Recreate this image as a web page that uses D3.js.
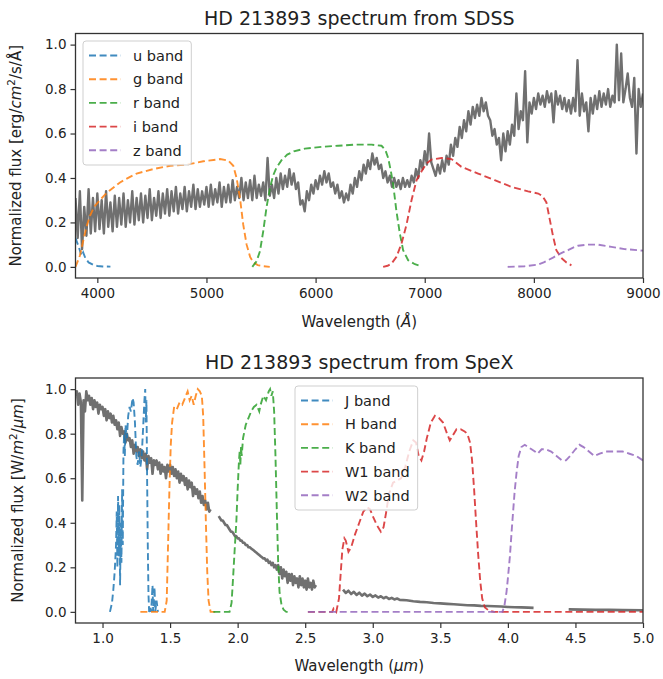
<!DOCTYPE html>
<html><head><meta charset="utf-8">
<script src="https://cdn.jsdelivr.net/npm/d3@7"></script>
<style>
body{margin:0;background:#fff}
svg{display:block}
text{font-family:"DejaVu Sans",sans-serif;fill:#222}
</style>
</head><body>
<svg id="c" width="663" height="679"></svg>
<script>
// ---------------- SDSS panel data ----------------
const sdssTitle = "HD 213893 spectrum from SDSS";
const sdssXTicks = [4000, 5000, 6000, 7000, 8000, 9000];
const yTicks = [0, 0.2, 0.4, 0.6, 0.8, 1.0];

const sdssWave = [
3800,3820,3840,3860,3880,3900,3920,3940,3960,3980,
4000,4020,4040,4060,4080,4100,4120,4140,4160,4180,
4200,4220,4240,4260,4280,4300,4320,4340,4360,4380,
4400,4420,4440,4460,4480,4500,4520,4540,4560,4580,
4600,4620,4640,4660,4680,4700,4720,4740,4760,4780,
4800,4820,4840,4860,4880,4900,4920,4940,4960,4980,
5000,5020,5040,5060,5080,5100,5120,5140,5160,5180,
5200,5220,5240,5260,5280,5300,5320,5340,5360,5380,
5400,5420,5440,5460,5480,5500,5520,5540,5560,5580,
5600,5620,5640,5660,5680,5700,5720,5740,5760,5780,
5800,5820,5840,5860,5880,5900,5920,5940,5960,5980,
6000,6020,6040,6060,6080,6100,6120,6140,6160,6180,
6200,6220,6240,6260,6280,6300,6320,6340,6360,6380,
6400,6420,6440,6460,6480,6500,6520,6540,6560,6580,
6600,6620,6640,6660,6680,6700,6720,6740,6760,6780,
6800,6820,6840,6860,6880,6900,6920,6940,6960,6980,
7000,7020,7040,7060,7080,7100,7120,7140,7160,7180,
7200,7220,7240,7260,7280,7300,7320,7340,7360,7380,
7400,7420,7440,7460,7480,7500,7520,7540,7560,7580,
7600,7620,7640,7660,7680,7700,7720,7740,7760,7780,
7800,7820,7840,7860,7880,7900,7920,7940,7960,7980,
8000,8020,8040,8060,8080,8100,8120,8140,8160,8180,
8200,8220,8240,8260,8280,8300,8320,8340,8360,8380,
8400,8420,8440,8460,8480,8500,8520,8540,8560,8580,
8600,8620,8640,8660,8680,8700,8720,8740,8760,8780,
8800,8820,8840,8860,8880,8900,8920,8940,8960,8980,
9000];
const sdssFlux = [
.31,.13,.34,.08,.27,.14,.35,.15,.31,.16,
.33,.17,.30,.15,.34,.18,.29,.16,.32,.18,
.31,.19,.33,.18,.30,.20,.34,.19,.31,.21,
.33,.20,.32,.22,.35,.21,.31,.23,.34,.22,
.33,.24,.35,.23,.34,.25,.36,.24,.33,.26,
.36,.25,.34,.27,.37,.26,.35,.27,.34,.28,
.36,.27,.37,.28,.35,.29,.38,.27,.36,.29,
.37,.29,.39,.30,.36,.31,.40,.30,.38,.31,
.39,.30,.41,.31,.37,.32,.38,.30,.49,.32,
.37,.31,.40,.33,.42,.35,.41,.36,.44,.37,
.42,.35,.38,.28,.30,.25,.34,.30,.37,.33,
.39,.35,.41,.37,.43,.38,.42,.36,.38,.33,
.37,.31,.34,.29,.33,.30,.37,.33,.40,.36,
.43,.39,.46,.42,.48,.44,.51,.46,.49,.44,
.46,.40,.43,.38,.41,.36,.40,.36,.39,.35,
.40,.36,.39,.36,.41,.38,.44,.40,.48,.44,
.52,.46,.60,.47,.44,.41,.46,.42,.48,.43,
.50,.46,.55,.50,.58,.54,.63,.58,.66,.61,
.70,.64,.72,.67,.73,.68,.76,.70,.74,.68,
.66,.59,.62,.55,.58,.48,.60,.52,.61,.55,
.64,.59,.78,.62,.70,.66,.88,.56,.74,.69,
.76,.71,.78,.73,.77,.72,.79,.74,.78,.65,
.79,.73,.77,.71,.76,.70,.75,.69,.76,.70,
.93,.68,.78,.70,.74,.61,.76,.69,.77,.71,
.79,.72,.78,.73,.80,.72,.77,.74,1.0,.75,
.96,.74,.80,.87,.76,.72,.85,.51,.80,.72,
.78];

const uWave = [3800,3830,3855,3870,3890,3920,3960,4000,4050,4120];
const uVal  = [0.13,0.09,0.05,0.065,0.04,0.02,0.01,0.004,0.002,0.001];
const gWave = [3800,3840,3872,3900,3933,3970,4024,4070,4116,4208,4300,4360,4513,4666,4818,4971,5124,5200,5246,5276,5307,5337,5368,5400,5430,5470,5520,5580];
const gVal  = [0.0,0.05,0.12,0.18,0.23,0.27,0.30,0.325,0.345,0.38,0.405,0.42,0.44,0.455,0.46,0.475,0.485,0.478,0.455,0.40,0.31,0.19,0.10,0.045,0.02,0.008,0.003,0.0];
const rWave = [5420,5459,5490,5520,5551,5580,5610,5640,5688,5740,5800,5902,6054,6207,6360,6513,6604,6640,6665,6690,6711,6741,6772,6802,6848,6910,6971];
const rVal  = [0.0,0.025,0.07,0.16,0.27,0.35,0.41,0.445,0.48,0.505,0.52,0.532,0.54,0.545,0.55,0.55,0.545,0.525,0.49,0.43,0.37,0.25,0.15,0.075,0.03,0.012,0.003];
const iWave = [6619,6660,6696,6741,6787,6833,6879,6925,6971,7016,7062,7154,7245,7336,7489,7641,7794,7947,8040,8080,8115,8145,8175,8206,8252,8298,8344];
const iVal  = [0.0,0.005,0.015,0.045,0.105,0.19,0.30,0.39,0.43,0.465,0.483,0.49,0.485,0.45,0.42,0.39,0.36,0.34,0.33,0.318,0.29,0.215,0.14,0.075,0.04,0.02,0.007];
const zWave = [7760,7916,8038,8090,8130,8180,8222,8270,8313,8360,8405,8497,8589,8711,8832,8954,9000];
const zVal  = [0.0,0.003,0.01,0.02,0.03,0.043,0.055,0.066,0.075,0.087,0.095,0.10,0.10,0.09,0.08,0.075,0.073];

// ---------------- SpeX panel data ----------------
const spexTitle = "HD 213893 spectrum from SpeX";
const spexXTicks = [1.0, 1.5, 2.0, 2.5, 3.0, 3.5, 4.0, 4.5, 5.0];

const spexWaveA = [
0.80,0.81,0.82,0.83,0.84,0.85,0.86,0.87,0.88,0.89,
0.90,0.91,0.92,0.93,0.94,0.95,0.96,0.97,0.98,0.99,
1.00,1.01,1.02,1.03,1.04,1.05,1.06,1.07,1.08,1.09,
1.10,1.11,1.12,1.13,1.14,1.15,1.16,1.17,1.18,1.19,
1.20,1.21,1.22,1.23,1.24,1.25,1.26,1.27,1.28,1.29,
1.30,1.31,1.32,1.33,1.34,1.35,1.36,1.37,1.38,1.39,
1.40,1.41,1.42,1.43,1.44,1.45,1.46,1.47,1.48,1.49,
1.50,1.51,1.52,1.53,1.54,1.55,1.56,1.57,1.58,1.59,
1.60,1.61,1.62,1.63,1.64,1.65,1.66,1.67,1.68,1.69,
1.70,1.71,1.72,1.73,1.74,1.75,1.76,1.77,1.78,1.79,
1.80];
const spexFluxA = [
.97,.99,.93,.98,.94,.50,.95,.90,.99,.95,
.97,.93,.96,.91,.95,.92,.94,.89,.93,.91,
.92,.88,.91,.86,.90,.87,.89,.85,.88,.84,
.86,.82,.85,.79,.83,.80,.81,.76,.80,.77,
.78,.74,.77,.71,.75,.72,.74,.70,.73,.69,
.72,.68,.71,.64,.70,.67,.69,.62,.68,.66,
.68,.64,.67,.62,.66,.63,.65,.60,.66,.63,
.66,.62,.65,.61,.64,.60,.63,.58,.62,.59,
.61,.57,.60,.55,.59,.56,.58,.52,.56,.53,
.55,.51,.54,.49,.52,.48,.50,.46,.49,.45,
.46];
const spexWaveB = [
1.86,1.87,1.88,1.89,
1.90,1.91,1.92,1.93,1.94,1.95,1.96,1.97,1.98,1.99,
2.00,2.01,2.02,2.03,2.04,2.05,2.06,2.07,2.08,2.09,
2.10,2.11,2.12,2.13,2.14,2.15,2.16,2.17,2.18,2.19,
2.20,2.21,2.22,2.23,2.24,2.25,2.26,2.27,2.28,2.29,
2.30,2.31,2.32,2.33,2.34,2.35,2.36,2.37,2.38,2.39,
2.40,2.41,2.42,2.43,2.44,2.45,2.46,2.47,2.48,2.49,
2.50,2.51,2.52,2.53,2.54,2.55,2.56,2.57,2.58];
const spexFluxB = [
.43,.42,.41,.41,
.40,.39,.39,.38,.37,.36,.36,.35,.34,.34,
.33,.33,.32,.32,.31,.31,.30,.30,.29,.29,
.285,.28,.275,.27,.265,.26,.255,.25,.245,.24,
.24,.23,.235,.22,.225,.21,.22,.20,.21,.19,
.21,.17,.20,.15,.19,.16,.18,.13,.17,.14,
.17,.12,.16,.13,.15,.11,.16,.12,.15,.11,
.14,.10,.15,.11,.13,.10,.14,.11,.12];
const spexWaveC = [2.78,2.80,2.82,2.84,2.86,2.88,2.90,2.92,2.94,2.96,2.98,3.00,3.02,3.04,3.06,3.08,3.10,3.12,3.14,3.16,3.18,3.20,
3.25,3.30,3.35,3.40,3.45,3.50,3.55,3.60,3.65,3.70,3.75,3.80,3.85,3.90,3.95,4.00,4.05,4.10,4.15,4.19];
const spexFluxC = [.10,.085,.095,.08,.09,.076,.086,.073,.082,.07,.078,.067,.074,.064,.07,.061,.067,.058,.063,.056,.06,.054,
.052,.048,.045,.043,.040,.038,.036,.034,.032,.030,.029,.027,.026,.025,.024,.022,.021,.020,.019,.018];
const spexWaveD = [4.45,4.55,4.65,4.75,4.85,5.00];
const spexFluxD = [.011,.010,.009,.009,.008,.007];

const jWave = [1.055,1.07,1.08,1.09,1.10,1.105,1.11,1.115,1.12,1.125,1.13,1.135,1.14,1.145,1.15,1.155,1.16,1.165,1.17,1.18,1.19,1.20,1.21,1.222,1.23,1.24,1.25,1.26,1.27,1.28,1.29,1.30,1.31,1.316,1.32,1.325,1.33,1.335,1.34,1.345,1.355,1.36,1.37,1.375,1.385,1.39,1.40,1.41];
const jVal  = [0.0,0.04,0.10,0.18,0.30,0.45,0.20,0.52,0.25,0.48,0.12,0.40,0.22,0.55,0.30,0.72,0.80,0.70,0.84,0.78,0.88,0.92,0.90,0.96,0.94,0.85,0.70,0.66,0.72,0.65,0.70,0.82,0.95,1.00,0.85,0.95,0.60,0.30,0.08,0.0,0.02,0.0,0.12,0.0,0.11,0.0,0.05,0.0];
const hWave = [1.28,1.46,1.475,1.485,1.495,1.505,1.515,1.53,1.55,1.57,1.59,1.61,1.63,1.645,1.66,1.675,1.69,1.705,1.72,1.735,1.745,1.755,1.765,1.775,1.785,1.80,1.84];
const hVal  = [0.0,0.0,0.05,0.30,0.55,0.75,0.85,0.92,0.91,0.94,0.93,0.96,0.99,0.95,0.97,0.93,0.97,1.00,0.99,0.97,0.88,0.65,0.40,0.18,0.05,0.0,0.0];
const kWave = [1.82,1.94,1.955,1.965,1.98,1.99,2.00,2.01,2.015,2.02,2.025,2.03,2.04,2.06,2.08,2.10,2.12,2.14,2.16,2.17,2.19,2.21,2.23,2.24,2.25,2.26,2.27,2.28,2.29,2.30,2.31,2.325,2.34,2.36,2.39];
const kVal  = [0.0,0.0,0.04,0.14,0.30,0.40,0.55,0.68,0.72,0.66,0.74,0.70,0.78,0.84,0.87,0.90,0.92,0.93,0.90,0.93,0.97,0.95,0.99,1.00,0.97,0.99,0.90,0.70,0.45,0.22,0.09,0.03,0.01,0.0,0.0];
const w1Wave = [2.52,2.70,2.71,2.73,2.75,2.76,2.775,2.79,2.80,2.82,2.84,2.87,2.90,2.93,2.96,2.98,3.00,3.03,3.06,3.08,3.10,3.12,3.15,3.18,3.21,3.24,3.27,3.30,3.32,3.34,3.36,3.38,3.40,3.43,3.46,3.49,3.52,3.55,3.57,3.59,3.62,3.65,3.68,3.70,3.72,3.735,3.75,3.765,3.78,3.795,3.81,3.83,3.86,3.90,5.00];
const w1Val  = [0.0,0.0,0.015,0.0,0.06,0.15,0.28,0.33,0.32,0.27,0.29,0.35,0.40,0.45,0.47,0.46,0.43,0.39,0.36,0.38,0.45,0.53,0.58,0.59,0.60,0.65,0.72,0.77,0.76,0.70,0.68,0.72,0.78,0.85,0.88,0.87,0.85,0.80,0.77,0.79,0.82,0.82,0.81,0.80,0.76,0.68,0.55,0.40,0.26,0.14,0.06,0.02,0.005,0.0,0.0];
const w2Wave = [2.52,3.96,3.975,3.99,4.00,4.015,4.03,4.04,4.05,4.065,4.08,4.10,4.125,4.15,4.175,4.20,4.22,4.25,4.28,4.32,4.36,4.40,4.43,4.46,4.50,4.53,4.56,4.60,4.64,4.68,4.72,4.76,4.80,4.85,4.90,4.95,5.00];
const w2Val  = [0.0,0.0,0.03,0.09,0.15,0.25,0.38,0.46,0.54,0.63,0.70,0.74,0.75,0.74,0.73,0.72,0.71,0.73,0.73,0.72,0.70,0.68,0.68,0.70,0.73,0.75,0.74,0.72,0.70,0.71,0.72,0.72,0.72,0.72,0.71,0.70,0.68];

const sdssBandNames = ["u band","g band","r band","i band","z band"];
const spexBandNames = ["J band","H band","K band","W1 band","W2 band"];
const bandColors = ["#1f77b4","#ff7f0e","#2ca02c","#d62728","#9467bd"];

// ---------------- drawing ----------------
const svg = d3.select("#c");
const SPEC_COLOR = "#707070";
const AX_COLOR = "#333";
const TICK_FS = 13.5, LABEL_FS = 15, TITLE_FS = 19, LEG_FS = 14.5;

function addRich(sel, parts, fs) {
  parts.forEach((p, i) => {
    const t = sel.append("tspan").text(p.t);
    if (p.i) t.attr("font-style", "italic");
    if (p.sup) {
      t.attr("font-size", fs * 0.7).attr("dy", -fs * 0.42);
    }
    if (i > 0 && parts[i - 1].sup) t.attr("dy", fs * 0.42);
  });
}

function panel(o, idx) {
  const g = svg.append("g");
  const x = d3.scaleLinear().domain(o.xDomain).range([o.left, o.right]);
  const y = d3.scaleLinear().domain([-0.05, 1.05]).range([o.bottom, o.top]);
  const cid = "clip" + idx;
  g.append("clipPath").attr("id", cid).append("rect")
    .attr("x", o.left).attr("y", o.top).attr("width", o.right - o.left).attr("height", o.bottom - o.top);
  const plot = g.append("g").attr("clip-path", `url(#${cid})`);
  const line = d3.line().x(d => x(d[0])).y(d => y(d[1]));

  o.spectrum.forEach(seg => {
    plot.append("path").attr("d", line(d3.zip(seg[0], seg[1])))
      .attr("fill", "none").attr("stroke", SPEC_COLOR).attr("stroke-width", o.specW)
      .attr("stroke-linejoin", "round");
  });
  o.bands.forEach((b, i) => {
    plot.append("path").attr("d", line(d3.zip(b[0], b[1])))
      .attr("fill", "none").attr("stroke", bandColors[i]).attr("stroke-width", 1.9)
      .attr("stroke-opacity", 0.85)
      .attr("stroke-dasharray", "7,3.6");
  });

  // axes
  const xa = d3.axisBottom(x).tickValues(o.xTicks).tickFormat(o.xFmt).tickSize(5).tickPadding(5);
  const ya = d3.axisLeft(y).tickValues(yTicks).tickFormat(d3.format(".1f")).tickSize(5).tickPadding(4);
  const gx = g.append("g").attr("transform", `translate(0,${o.bottom})`).call(xa);
  const gy = g.append("g").attr("transform", `translate(${o.left},0)`).call(ya);
  [gx, gy].forEach(a => {
    a.select(".domain").remove();
    a.selectAll("line").attr("stroke", AX_COLOR).attr("stroke-width", 1.2);
    a.selectAll("text").attr("font-size", TICK_FS).attr("fill", "#222")
      .attr("font-family", "DejaVu Sans");
  });
  g.append("rect").attr("x", o.left).attr("y", o.top)
    .attr("width", o.right - o.left).attr("height", o.bottom - o.top)
    .attr("fill", "none").attr("stroke", AX_COLOR).attr("stroke-width", 1.3);

  // title
  g.append("text").attr("x", (o.left + o.right) / 2).attr("y", o.titleY)
    .attr("text-anchor", "middle").attr("font-size", TITLE_FS).text(o.title);
  // x label
  const xl = g.append("text").attr("x", (o.left + o.right) / 2).attr("y", o.xLabelY)
    .attr("text-anchor", "middle").attr("font-size", LABEL_FS);
  addRich(xl, o.xLabel, LABEL_FS);
  // y label
  const yl = g.append("text")
    .attr("transform", `translate(${o.yLabelX},${(o.top + o.bottom) / 2}) rotate(-90)`)
    .attr("text-anchor", "middle").attr("font-size", LABEL_FS);
  addRich(yl, o.yLabel, LABEL_FS);

  // legend
  const lg = g.append("g");
  const box = lg.append("rect").attr("x", o.legX).attr("y", o.legY).attr("rx", 3)
    .attr("fill", "#fff").attr("fill-opacity", 0.8).attr("stroke", "#cfcfcf").attr("stroke-width", 1);
  let maxW = 0;
  o.names.forEach((n, i) => {
    const cy = o.legY + 14.5 + i * 23.7;
    lg.append("line").attr("x1", o.legX + 6).attr("x2", o.legX + 38)
      .attr("y1", cy).attr("y2", cy).attr("stroke", bandColors[i]).attr("stroke-opacity", 0.85)
      .attr("stroke-width", 1.9).attr("stroke-dasharray", "7,3.6");
    const t = lg.append("text").attr("x", o.legX + 50).attr("y", cy + 5.2)
      .attr("font-size", LEG_FS).text(n);
    maxW = Math.max(maxW, t.node().getComputedTextLength());
  });
  box.attr("width", 50 + maxW + 8).attr("height", 124);
}

panel({
  left: 75.5, right: 643, top: 33.5, bottom: 278,
  xDomain: [3800, 9000], xTicks: sdssXTicks, xFmt: d3.format("d"),
  spectrum: [[sdssWave, sdssFlux]], specW: 2.4,
  bands: [[uWave, uVal], [gWave, gVal], [rWave, rVal], [iWave, iVal], [zWave, zVal]],
  names: sdssBandNames,
  title: sdssTitle, titleY: 24.5,
  xLabel: [{t: "Wavelength ("}, {t: "Å", i: 1}, {t: ")"}], xLabelY: 327,
  yLabel: [{t: "Normalized flux [erg/"}, {t: "cm", i: 1}, {t: "2", sup: 1}, {t: "/s/Å]"}], yLabelX: 21,
  legX: 83, legY: 41
}, 0);

panel({
  left: 75.5, right: 643, top: 378, bottom: 623,
  xDomain: [0.8, 5.0], xTicks: spexXTicks, xFmt: d3.format(".1f"),
  spectrum: [[spexWaveA, spexFluxA], [spexWaveB, spexFluxB], [spexWaveC, spexFluxC], [spexWaveD, spexFluxD]], specW: 2.6,
  bands: [[jWave, jVal], [hWave, hVal], [kWave, kVal], [w1Wave, w1Val], [w2Wave, w2Val]],
  names: spexBandNames,
  title: spexTitle, titleY: 369,
  xLabel: [{t: "Wavelength ("}, {t: "μm", i: 1}, {t: ")"}], xLabelY: 671,
  yLabel: [{t: "Normalized flux [W/"}, {t: "m", i: 1}, {t: "2", sup: 1}, {t: "/"}, {t: "μm", i: 1}, {t: "]"}], yLabelX: 23,
  legX: 295, legY: 386
}, 1);
</script>
</body></html>
